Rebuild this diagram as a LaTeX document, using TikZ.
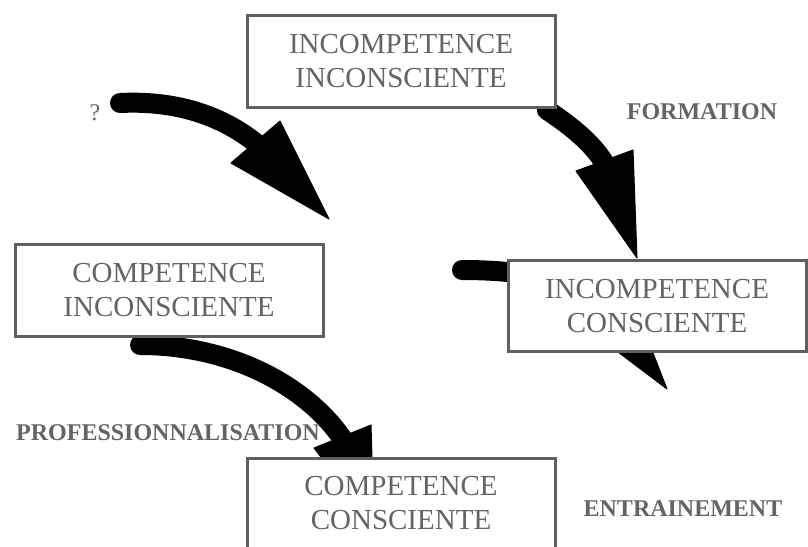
\documentclass[tikz,border=0pt]{standalone}
\usepackage{fontspec}
\setmainfont{Liberation Serif}
\usetikzlibrary{backgrounds}
\definecolor{txtgray}{RGB}{100,100,100}
\definecolor{boxgray}{RGB}{95,95,95}
\begin{document}
\begin{tikzpicture}[x=1pt,y=-1pt,
  box/.style={draw=boxgray, line width=3pt, fill=white, inner sep=0pt, align=center,
    text=txtgray, font=\fontsize{29}{34}\selectfont},
  lab/.style={text=txtgray, font=\bfseries\fontsize{24}{28}\selectfont, inner sep=0pt},
  shaft/.style={line width=20pt, line cap=round, draw=black},
  head/.style={fill=black, draw=black, line width=1pt, line join=round}]
\useasboundingbox (0,0) rectangle (808,546);
\clip (0,0) rectangle (808,546);
% boxes
\node[box, minimum width=308pt, minimum height=92pt] (ii) at (401,61) {INCOMPETENCE\\INCONSCIENTE};
\node[box, minimum width=308pt, minimum height=92pt] (ci) at (169,290) {COMPETENCE\\INCONSCIENTE};
\node[box, minimum width=298pt, minimum height=91pt] (ic) at (657,306) {INCOMPETENCE\\CONSCIENTE};
\node[box, minimum width=308pt, minimum height=90pt] (cc) at (401,503) {COMPETENCE\\CONSCIENTE};
% labels
\node[text=txtgray, font=\fontsize{24}{28}\selectfont, inner sep=0pt] (q) at (95,113) {?};
\node[lab] (lform) at (702,112) {FORMATION};
\node[lab] (lprof) at (168,433) {PROFESSIONNALISATION};
\node[lab] (lentr) at (683,509) {ENTRAINEMENT};
% arrow end points
\coordinate (t1) at (120,103);
\coordinate (p1) at (329,219);
\coordinate (t2) at (547,110);
\coordinate (p2) at (637,258);
\coordinate (t3) at (462,270);
\coordinate (p3) at (667,389);
\coordinate (t4) at (140,345);
\coordinate (p4) at (374,526);
\begin{scope}[on background layer]
  % ? arrow
  \draw[shaft] (t1) .. controls (180,100) and (225,118) .. (257,144);
  \filldraw[head] (231,163) -- (280,121) -- (p1) -- cycle;
  % formation arrow
  \draw[shaft] (t2) .. controls (568,124) and (592,142) .. (605,164);
  \filldraw[head] (576,171) -- (633,150) -- (p2) -- cycle;
  % entrainement arrow (behind box)
  \draw[shaft] (t3) .. controls (540,270) and (595,285) .. (607,322);
  \filldraw[head] (573,318) -- (641,322) -- (p3) -- cycle;
  % professionnalisation arrow
  \draw[shaft] (t4) .. controls (230,345) and (305,385) .. (342,438);
  \filldraw[head] (314,448) -- (371,425) -- (p4) -- cycle;
\end{scope}
\end{tikzpicture}
\end{document}
